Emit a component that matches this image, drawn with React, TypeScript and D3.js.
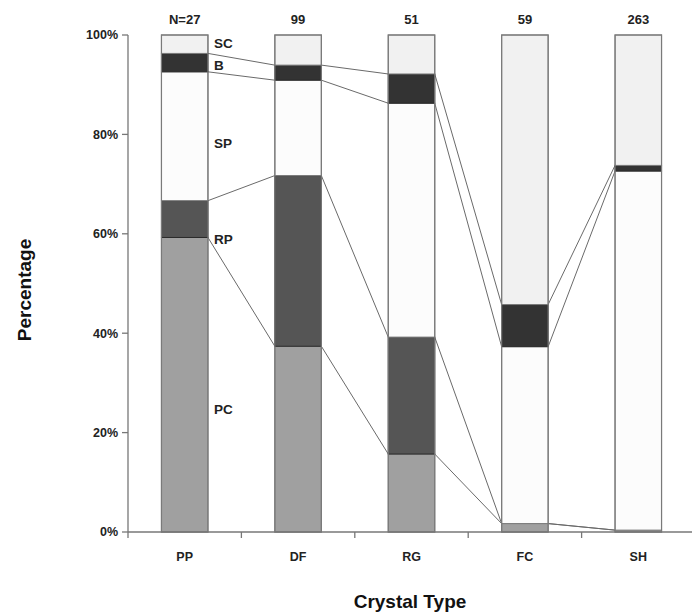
import React from "react"
import * as d3 from "d3"

// crystal types and counts per type
const types = ["PP", "DF", "RG", "FC", "SH"]
const totals = [27, 99, 51, 59, 263]
const nLabels = ["N=27", "99", "51", "59", "263"]

// counts per grain class, bottom to top
const segKeys = ["PC", "RP", "SP", "B", "SC"]
const pcCounts = [16, 37, 8, 1, 1]
const rpCounts = [2, 34, 12, 0, 0]
const spCounts = [7, 19, 24, 21, 190]
const bCounts = [1, 3, 3, 5, 3]
const scCounts = [1, 6, 4, 32, 69]

const segColors = ["#a0a0a0", "#555555", "#fcfcfc", "#333333", "#f1f1f1"]
// where the class labels sit (percent) beside the first bar
const labelPct = [24.7, 58.8, 78.3, 94, 98.4]
const yTicks = [0, 20, 40, 60, 80, 100]

const W = 692
const H = 613
const margin = { top: 35, right: 0, bottom: 81, left: 128 }

export default function App() {
  const x = d3
    .scaleBand()
    .domain(types)
    .range([margin.left, W - margin.right + 3])
    .paddingInner(0.59)
    .paddingOuter(0.295)
  const y = d3
    .scaleLinear()
    .domain([0, 100])
    .range([H - margin.bottom, margin.top])

  const counts = [pcCounts, rpCounts, spCounts, bCounts, scCounts]
  const rows = types.map((t, i) => {
    const r: any = { type: t }
    segKeys.forEach((k, j) => (r[k] = (counts[j][i] / totals[i]) * 100))
    return r
  })
  const series = d3.stack().keys(segKeys)(rows)
  const bw = x.bandwidth()
  const font = "'Liberation Sans', Arial, sans-serif"
  const x0 = margin.left
  const yBase = y(0)

  return (
    <svg width={W} height={H} style={{ position: "absolute", left: 0, top: 0 }}>
      <rect width={W} height={H} fill="#fff" />
      {/* connecting lines between bar boundaries */}
      <g stroke="#6a6a6a" strokeWidth={1} fill="none">
        {series.slice(0, 4).map((s, j) =>
          s.slice(0, -1).map((d, i) => (
            <line
              key={j + "-" + i}
              x1={x(types[i])! + bw}
              y1={y(d[1])}
              x2={x(types[i + 1])!}
              y2={y(s[i + 1][1])}
            />
          ))
        )}
      </g>
      {/* bars */}
      {series.map((s, j) => (
        <g key={s.key} fill={segColors[j]}>
          {s.map((d, i) =>
            d[1] - d[0] > 0 ? (
              <rect
                key={i}
                x={x(types[i])}
                y={y(d[1])}
                width={bw}
                height={y(d[0]) - y(d[1])}
                stroke={j === 1 || j === 3 ? "#2a2a2a" : "#7a7a7a"}
                strokeWidth={1}
              />
            ) : null
          )}
        </g>
      ))}
      {types.map(t => (
        <rect
          key={t}
          x={x(t)}
          y={y(100)}
          width={bw}
          height={yBase - y(100)}
          fill="none"
          stroke="#7a7a7a"
          strokeWidth={1.2}
        />
      ))}
      {/* y axis */}
      <line x1={x0} x2={x0} y1={y(100)} y2={yBase} stroke="#777" strokeWidth={1.3} />
      {yTicks.map(t => (
        <g key={t}>
          <line x1={x0 - 6} x2={x0} y1={y(t)} y2={y(t)} stroke="#777" strokeWidth={1.3} />
          <text
            x={x0 - 10}
            y={y(t)}
            dy="0.35em"
            textAnchor="end"
            fontFamily={font}
            fontWeight="bold"
            fontSize={12.5}
            fill="#222"
          >
            {t}%
          </text>
        </g>
      ))}
      {/* x axis */}
      <line x1={x0} x2={W} y1={yBase} y2={yBase} stroke="#777" strokeWidth={1.3} />
      {types.map((t, i) => (
        <g key={t}>
          <line
            x1={x0 + i * x.step()}
            x2={x0 + i * x.step()}
            y1={yBase}
            y2={yBase + 6}
            stroke="#777"
            strokeWidth={1.3}
          />
          <text
            x={x(t)! + bw / 2}
            y={yBase + 29}
            textAnchor="middle"
            fontFamily={font}
            fontWeight="bold"
            fontSize={12.5}
            fill="#222"
          >
            {t}
          </text>
          <text
            x={x(t)! + bw / 2}
            y={y(100) - 11}
            textAnchor="middle"
            fontFamily={font}
            fontWeight="bold"
            fontSize={13}
            fill="#222"
          >
            {nLabels[i]}
          </text>
        </g>
      ))}
      {/* class labels */}
      {segKeys.map((k, j) => (
        <text
          key={k}
          x={x(types[0])! + bw + 6}
          y={y(labelPct[j])}
          dy="0.35em"
          fontFamily={font}
          fontWeight="bold"
          fontSize={13.5}
          fill="#222"
        >
          {k}
        </text>
      ))}
      <text
        x={410}
        y={608}
        textAnchor="middle"
        fontFamily={font}
        fontWeight="bold"
        fontSize={19}
        fill="#111"
      >
        Crystal Type
      </text>
      <text
        transform={`translate(31, ${290}) rotate(-90)`}
        textAnchor="middle"
        fontFamily={font}
        fontWeight="bold"
        fontSize={19}
        fill="#111"
      >
        Percentage
      </text>
    </svg>
  )
}
